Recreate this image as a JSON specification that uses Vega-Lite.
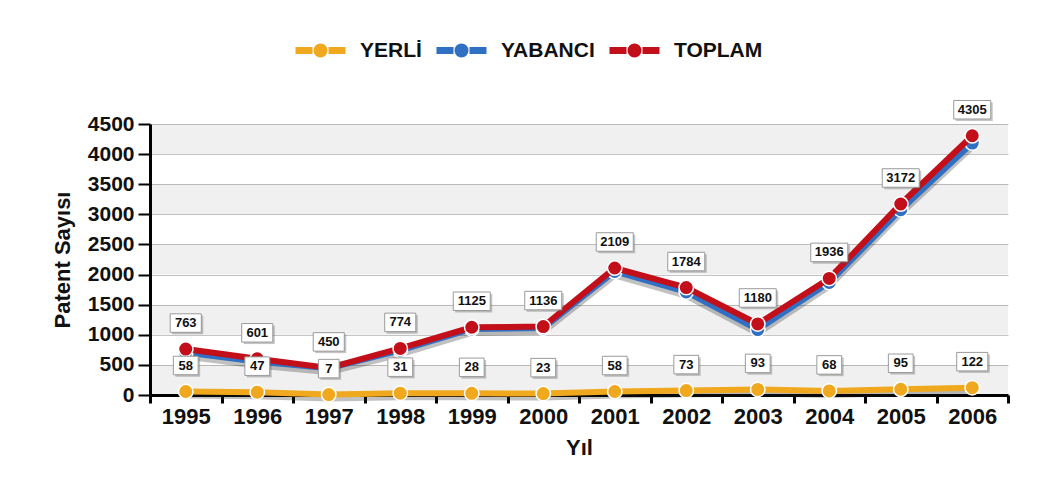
{
  "$schema": "https://vega.github.io/schema/vega-lite/v6.json",
  "width": 858,
  "height": 271,
  "autosize": "none",
  "padding": {"left": 150, "top": 124, "right": 34, "bottom": 89},
  "background": "white",
  "config": {
    "font": "Liberation Sans",
    "view": {"stroke": null},
    "axis": {"labelFont": "Liberation Sans", "titleFont": "Liberation Sans", "labelFontWeight": "bold", "titleFontWeight": "bold", "labelColor": "#111", "titleColor": "#111", "domainColor": "#000", "tickColor": "#000"}
  },
  "datasets": {
    "bands": [
      {"lo": 0, "hi": 500},
      {"lo": 1000, "hi": 1500},
      {"lo": 2000, "hi": 2500},
      {"lo": 3000, "hi": 3500},
      {"lo": 4000, "hi": 4500}
    ],
    "patents": [
      {"yil": "1995", "seri": "YERLİ", "deger": 58},
      {"yil": "1996", "seri": "YERLİ", "deger": 47},
      {"yil": "1997", "seri": "YERLİ", "deger": 7},
      {"yil": "1998", "seri": "YERLİ", "deger": 31},
      {"yil": "1999", "seri": "YERLİ", "deger": 28},
      {"yil": "2000", "seri": "YERLİ", "deger": 23},
      {"yil": "2001", "seri": "YERLİ", "deger": 58},
      {"yil": "2002", "seri": "YERLİ", "deger": 73},
      {"yil": "2003", "seri": "YERLİ", "deger": 93},
      {"yil": "2004", "seri": "YERLİ", "deger": 68},
      {"yil": "2005", "seri": "YERLİ", "deger": 95},
      {"yil": "2006", "seri": "YERLİ", "deger": 122},
      {"yil": "1995", "seri": "YABANCI", "deger": 705},
      {"yil": "1996", "seri": "YABANCI", "deger": 554},
      {"yil": "1997", "seri": "YABANCI", "deger": 443},
      {"yil": "1998", "seri": "YABANCI", "deger": 743},
      {"yil": "1999", "seri": "YABANCI", "deger": 1097},
      {"yil": "2000", "seri": "YABANCI", "deger": 1113},
      {"yil": "2001", "seri": "YABANCI", "deger": 2051},
      {"yil": "2002", "seri": "YABANCI", "deger": 1711},
      {"yil": "2003", "seri": "YABANCI", "deger": 1087},
      {"yil": "2004", "seri": "YABANCI", "deger": 1868},
      {"yil": "2005", "seri": "YABANCI", "deger": 3077},
      {"yil": "2006", "seri": "YABANCI", "deger": 4183},
      {"yil": "1995", "seri": "TOPLAM", "deger": 763},
      {"yil": "1996", "seri": "TOPLAM", "deger": 601},
      {"yil": "1997", "seri": "TOPLAM", "deger": 450},
      {"yil": "1998", "seri": "TOPLAM", "deger": 774},
      {"yil": "1999", "seri": "TOPLAM", "deger": 1125},
      {"yil": "2000", "seri": "TOPLAM", "deger": 1136},
      {"yil": "2001", "seri": "TOPLAM", "deger": 2109},
      {"yil": "2002", "seri": "TOPLAM", "deger": 1784},
      {"yil": "2003", "seri": "TOPLAM", "deger": 1180},
      {"yil": "2004", "seri": "TOPLAM", "deger": 1936},
      {"yil": "2005", "seri": "TOPLAM", "deger": 3172},
      {"yil": "2006", "seri": "TOPLAM", "deger": 4305}
    ]
  },
  "data": {"name": "patents"},
  "encoding": {
    "x": {
      "field": "yil",
      "type": "ordinal",
      "bandPosition": 0.5,
      "scale": {"type": "band", "paddingInner": 0, "paddingOuter": 0},
      "axis": {"title": "Yıl", "labelAngle": 0, "labelFontSize": 22, "titleFontSize": 22, "domainWidth": 3, "tickWidth": 3, "tickSize": 8, "tickBand": "extent", "labelPadding": 3, "titlePadding": 10, "grid": false}
    },
    "y": {
      "field": "deger",
      "type": "quantitative",
      "scale": {"domain": [0, 4500], "nice": false},
      "axis": {"title": "Patent Sayısı", "format": "d", "values": [0, 500, 1000, 1500, 2000, 2500, 3000, 3500, 4000, 4500], "labelFontSize": 21, "titleFontSize": 22, "domainWidth": 3, "tickWidth": 2, "tickSize": 12, "labelPadding": 4, "titlePadding": 13, "grid": true, "gridColor": "#c4c4c4", "gridWidth": 1}
    }
  },
  "layer": [
    {
      "data": {"name": "bands"},
      "mark": {"type": "rect", "fill": "#000", "fillOpacity": 0.06},
      "encoding": {
        "x": null,
        "y": {"field": "lo", "type": "quantitative"},
        "y2": {"field": "hi"}
      }
    },
    {
      "transform": [{"filter": "datum.seri !== 'TOPLAM'"}],
      "mark": {"type": "line", "color": "#222", "opacity": 0.28, "strokeWidth": 6, "yOffset": 4},
      "encoding": {"detail": {"field": "seri"}}
    },
    {
      "transform": [{"filter": "datum.seri === 'YABANCI'"}],
      "mark": {"type": "line", "strokeWidth": 6, "point": {"filled": true, "size": 210, "stroke": "white", "strokeWidth": 1.5, "opacity": 1}},
      "encoding": {
        "color": {"field": "seri", "type": "nominal", "scale": {"domain": ["YERLİ", "YABANCI", "TOPLAM"], "range": ["#f0a81e", "#2f6fc4", "#c20f1a"]},
          "legend": {"orient": "none", "legendX": 142, "legendY": -102, "direction": "horizontal", "title": null, "symbolType": "M-1,0H-0.32 M0.32,0H1 M-0.14,0A0.14,0.14 0 1,0 0.14,0A0.14,0.14 0 1,0 -0.14,0", "symbolSize": 2500, "symbolStrokeWidth": 7, "labelFontSize": 21, "labelFont": "Liberation Sans", "labelFontWeight": "bold", "labelColor": "#111", "labelOffset": 11, "columnPadding": 0, "padding": 0}}
      }
    },
    {
      "transform": [{"filter": "datum.seri === 'TOPLAM'"}],
      "mark": {"type": "line", "strokeWidth": 6, "point": {"filled": true, "size": 210, "stroke": "white", "strokeWidth": 1.5, "opacity": 1}},
      "encoding": {"color": {"field": "seri", "type": "nominal"}}
    },
    {
      "transform": [{"filter": "datum.seri === 'YERLİ'"}],
      "mark": {"type": "line", "strokeWidth": 6, "point": {"filled": true, "size": 210, "stroke": "white", "strokeWidth": 1.5, "opacity": 1}},
      "encoding": {"color": {"field": "seri", "type": "nominal"}}
    },
    {
      "transform": [{"filter": "datum.seri !== 'YABANCI'"}],
      "mark": {"type": "point", "filled": true, "fill": "#555", "opacity": 0.35, "size": 1369, "strokeWidth": 0, "xOffset": 2, "yOffset": -24},
      "encoding": {
        "shape": {"condition": [
          {"test": "datum.deger >= 1000", "value": "M-1,-0.5H1V0.5H-1Z"},
          {"test": "datum.deger >= 100", "value": "M-0.84,-0.5H0.84V0.5H-0.84Z"},
          {"test": "datum.deger >= 10", "value": "M-0.67,-0.5H0.67V0.5H-0.67Z"}
        ], "value": "M-0.56,-0.5H0.56V0.5H-0.56Z"}
      }
    },
    {
      "transform": [{"filter": "datum.seri !== 'YABANCI'"}],
      "mark": {"type": "point", "filled": true, "fill": "white", "opacity": 1, "stroke": "#9a9a9a", "strokeWidth": 1, "size": 1369, "yOffset": -26},
      "encoding": {
        "shape": {"condition": [
          {"test": "datum.deger >= 1000", "value": "M-1,-0.5H1V0.5H-1Z"},
          {"test": "datum.deger >= 100", "value": "M-0.84,-0.5H0.84V0.5H-0.84Z"},
          {"test": "datum.deger >= 10", "value": "M-0.67,-0.5H0.67V0.5H-0.67Z"}
        ], "value": "M-0.56,-0.5H0.56V0.5H-0.56Z"}
      }
    },
    {
      "transform": [{"filter": "datum.seri !== 'YABANCI'"}],
      "mark": {"type": "text", "font": "Liberation Sans", "fontWeight": "bold", "fontSize": 13, "color": "#111", "baseline": "middle", "dy": -26},
      "encoding": {"text": {"field": "deger", "type": "quantitative"}}
    }
  ]
}
